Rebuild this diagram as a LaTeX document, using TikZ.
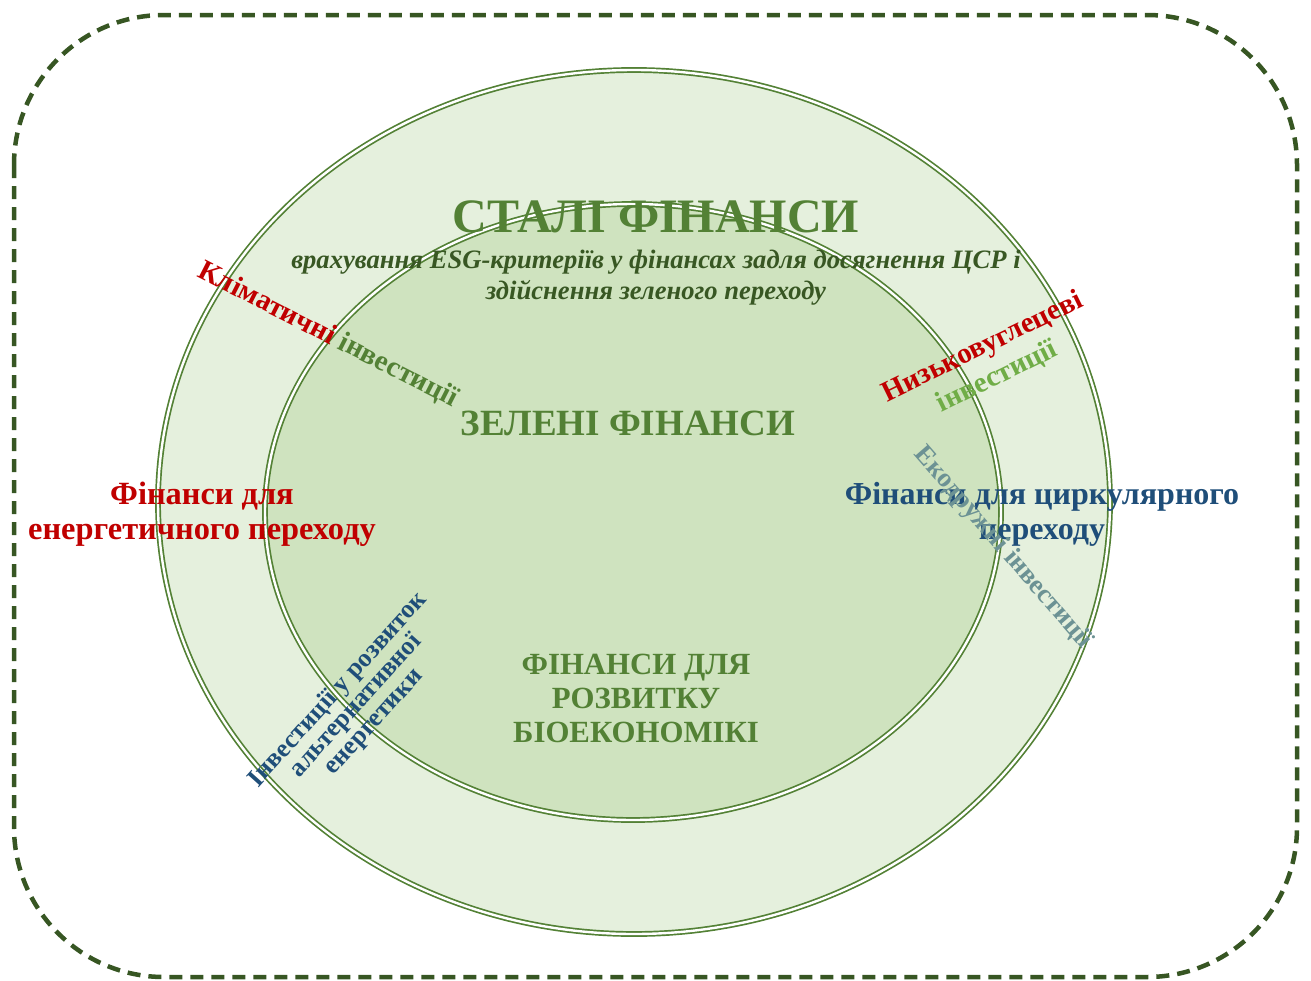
\documentclass[tikz,border=0pt]{standalone}
\usepackage{fontspec}
\setmainfont{Liberation Serif}
\definecolor{frame}{HTML}{375623}
\definecolor{ring}{HTML}{538135}
\definecolor{outerfill}{HTML}{E5F0DD}
\definecolor{innerfill}{HTML}{CFE3BF}
\definecolor{redtxt}{HTML}{C00000}
\definecolor{bluetxt}{HTML}{1F4E79}
\definecolor{subtxt}{HTML}{385723}
\definecolor{lighttxt}{HTML}{70AD47}
\definecolor{greytxt}{HTML}{6C9294}
\begin{document}
\begin{tikzpicture}[x=1pt,y=-1pt,
  ringline/.style={draw=ring,line width=1.7pt,double=white,double distance=2.4pt},
  lbl/.style={inner sep=0pt,align=center}]
\useasboundingbox (0,0) rectangle (1311,980);
% dashed outer frame
\draw[frame,line width=4.5pt,dash pattern=on 13pt off 8pt,rounded corners=150pt]
  (14,15) rectangle (1297,977);
% sustainable finance ring and green finance core
\path[ringline,fill=outerfill] (634,502) ellipse [x radius=476pt,y radius=432pt];
\path[ringline,fill=innerfill] (633,512) ellipse [x radius=368pt,y radius=308pt];
% headings
\node[lbl,ring,font=\fontsize{48}{56}\selectfont\bfseries] (title) at (656,217) {СТАЛІ ФІНАНСИ};
\node[lbl,subtxt,font=\fontsize{26.6}{31}\selectfont\bfseries\itshape] (sub) at (656,278)
  {врахування ESG-критеріїв у фінансах задля досягнення ЦСР і\\здійснення зеленого переходу};
\node[lbl,ring,font=\fontsize{37}{44}\selectfont\bfseries] (green) at (628,423) {ЗЕЛЕНІ ФІНАНСИ};
\node[lbl,ring,font=\fontsize{30.8}{34}\selectfont\bfseries] (bio) at (636,698)
  {ФІНАНСИ ДЛЯ\\РОЗВИТКУ\\БІОЕКОНОМІКІ};
\node[lbl,redtxt,font=\fontsize{32.4}{35}\selectfont\bfseries] (energy) at (202,514)
  {Фінанси для\\енергетичного переходу};
\node[lbl,bluetxt,font=\fontsize{32}{35}\selectfont\bfseries] (circ) at (1042,514)
  {Фінанси для циркулярного\\переходу};
% slanted investment labels
\node[lbl,rotate=-27,font=\fontsize{29}{33}\selectfont\bfseries] (climate) at (328,335)
  {\textcolor{redtxt}{Кліматичні} \textcolor{ring}{інвестиції}};
\node[lbl,rotate=26,font=\fontsize{29}{33}\selectfont\bfseries] (lowc) at (990,362)
  {\textcolor{redtxt}{Низьковуглецеві}\\\textcolor{lighttxt}{інвестиції}};
\node[lbl,rotate=-49,greytxt,font=\fontsize{27}{30}\selectfont\bfseries] (eco) at (1003,548)
  {Екодружні інвестиції};
\node[lbl,rotate=48,bluetxt,font=\fontsize{26}{24}\selectfont\bfseries] (alt) at (356,706)
  {Інвестиції у розвиток\\альтернативної\\енергетики};
\end{tikzpicture}
\end{document}
